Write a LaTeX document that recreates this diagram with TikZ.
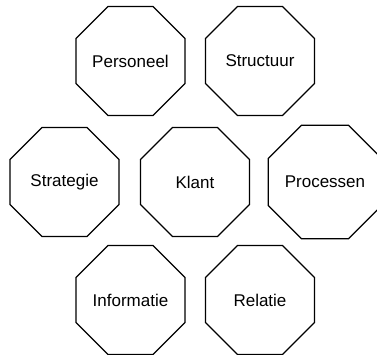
\documentclass[tikz,border=0pt]{standalone}
\usepackage{fontspec}
\setmainfont{Liberation Sans}
\usetikzlibrary{positioning, shapes.geometric}

\begin{document}
\begin{tikzpicture}[
  octa/.style={draw, regular polygon, regular polygon sides=8, minimum size=118pt,
               inner sep=0pt, line width=1.2pt, fill=white,
               font=\fontsize{17}{20}\selectfont},
  node distance=121pt and 65pt, on grid,
]
\useasboundingbox (-195pt,-172pt) rectangle (182pt,182pt);

% === Middle row ===
\node[octa] (klant) at (0,0) {Klant};
\node[octa, left=130.5pt of klant] (strategie) {Strategie};
\node[octa, right=130pt of klant] (processen) {Processen};

% === Top row ===
\node[octa, above left=121pt and 64.5pt of klant] (personeel) {Personeel};
\node[octa, above right=121pt and 65pt of klant] (structuur) {Structuur};

% === Bottom row ===
\node[octa, below left=118pt and 64.5pt of klant] (informatie) {Informatie};
\node[octa, below right=118pt and 65pt of klant] (relatie) {Relatie};

\end{tikzpicture}
\end{document}
